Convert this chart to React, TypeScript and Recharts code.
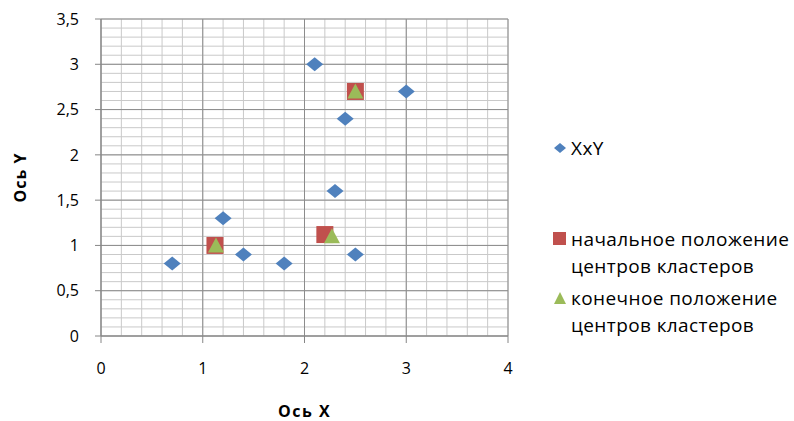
import { ScatterChart, Scatter, XAxis, YAxis, CartesianGrid } from 'recharts';

const points = [
  { x: 0.7, y: 0.8 },
  { x: 1.2, y: 1.3 },
  { x: 1.4, y: 0.9 },
  { x: 1.8, y: 0.8 },
  { x: 2.1, y: 3.0 },
  { x: 2.3, y: 1.6 },
  { x: 2.4, y: 2.4 },
  { x: 2.5, y: 0.9 },
  { x: 3.0, y: 2.7 },
];

const startCenters = [
  { x: 1.12, y: 1.0 },
  { x: 2.2, y: 1.12 },
  { x: 2.5, y: 2.7 },
];

const finalCenters = [
  { x: 1.13, y: 1.0 },
  { x: 2.27, y: 1.1 },
  { x: 2.5, y: 2.7 },
];

const X_MAX = 4;
const Y_MAX = 3.5;
const xTicks = [0, 1, 2, 3, 4];
const yTicks = [0, 0.5, 1, 1.5, 2, 2.5, 3, 3.5];
const xMinor = [0, 0.2, 0.4, 0.6, 0.8, 1, 1.2, 1.4, 1.6, 1.8, 2, 2.2, 2.4, 2.6, 2.8, 3, 3.2, 3.4, 3.6, 3.8, 4];
const yMinor = [
  0, 0.1, 0.2, 0.3, 0.4, 0.5, 0.6, 0.7, 0.8, 0.9, 1, 1.1, 1.2, 1.3, 1.4, 1.5, 1.6, 1.7, 1.8, 1.9, 2,
  2.1, 2.2, 2.3, 2.4, 2.5, 2.6, 2.7, 2.8, 2.9, 3, 3.1, 3.2, 3.3, 3.4, 3.5,
];

const BLUE = '#4F81BD';
const RED = '#C0504D';
const GREEN = '#9BBB59';
const FONT = '"Open Sans", "Noto Sans", sans-serif';

// grid positions from the plot offset and the axis domains
const gridX = (vals: number[]) => ({ offset }: any) =>
  vals.map((v) => offset.left + (v / X_MAX) * offset.width);
const gridY = (vals: number[]) => ({ offset }: any) =>
  vals.map((v) => offset.top + offset.height - (v / Y_MAX) * offset.height);

const Diamond = (p: any) => (
  <polygon
    points={`${p.cx},${p.cy - 7} ${p.cx + 8.5},${p.cy} ${p.cx},${p.cy + 7} ${p.cx - 8.5},${p.cy}`}
    fill={BLUE}
  />
);

const Square = (p: any) => <rect x={p.cx - 8.5} y={p.cy - 8.5} width={17} height={17} fill={RED} />;

const Triangle = (p: any) => (
  <polygon
    points={`${p.cx},${p.cy - 8} ${p.cx + 8},${p.cy + 7} ${p.cx - 8},${p.cy + 7}`}
    fill={GREEN}
  />
);

const legendItems = [
  { color: BLUE, kind: 'diamond', lines: ['XxY'] },
  { color: RED, kind: 'square', lines: ['начальное положение', 'центров кластеров'] },
  { color: GREEN, kind: 'triangle', lines: ['конечное положение', 'центров кластеров'] },
];

function LegendIcon({ kind, color }: { kind: string; color: string }) {
  return (
    <svg width={14} height={14} style={{ position: 'absolute', left: 0, top: 1 }}>
      {kind === 'diamond' && <polygon points="7,2 13,7 7,12 1,7" fill={color} />}
      {kind === 'square' && <rect x={0} y={0} width={13} height={13} fill={color} />}
      {kind === 'triangle' && <polygon points="7,1 13,13 1,13" fill={color} />}
    </svg>
  );
}

function ChartLegend() {
  const tops = [0, 91, 150];
  return (
    <div
      style={{
        position: 'absolute',
        left: 553,
        top: 140,
        width: 241,
        height: 200,
        fontFamily: FONT,
        fontSize: 19,
        letterSpacing: 0.4,
        color: '#000',
      }}
    >
      {legendItems.map((it, i) => (
        <div key={i} style={{ position: 'absolute', left: 0, top: tops[i], paddingLeft: 18, lineHeight: '27px' }}>
          <LegendIcon kind={it.kind} color={it.color} />
          {it.lines.map((l, j) => (
            <div key={j} style={{ whiteSpace: 'nowrap', marginTop: j === 0 ? -5 : 0 }}>
              {l}
            </div>
          ))}
        </div>
      ))}
    </div>
  );
}

const tickStyle = { fontSize: 16, fill: '#000', fontFamily: FONT };

export default function App() {
  return (
    <div style={{ position: 'absolute', left: 0, top: 0, width: 794, height: 421, background: '#fff' }}>
      <ScatterChart width={794} height={421} margin={{ top: 19, right: 286, bottom: 0, left: 0 }}>
        <CartesianGrid
          stroke="#c9c9c9"
          verticalCoordinatesGenerator={gridX(xMinor)}
          horizontalCoordinatesGenerator={gridY(yMinor)}
        />
        <CartesianGrid
          stroke="#8c8c8c"
          fill="none"
          verticalCoordinatesGenerator={gridX(xTicks)}
          horizontalCoordinatesGenerator={gridY(yTicks)}
        />
        <XAxis
          type="number"
          dataKey="x"
          domain={[0, X_MAX]}
          ticks={xTicks}
          interval={0}
          height={85}
          tick={tickStyle}
          stroke="#868686"
          tickSize={7}
          tickMargin={20}
          label={{
            value: 'Ось X',
            content: (p: any) => (
              <text
                x={p.viewBox.x + p.viewBox.width / 2}
                y={p.viewBox.y + 81}
                textAnchor="middle"
                fontFamily={FONT}
                fontSize={16}
                letterSpacing={1.5}
                fontWeight="bold"
                fill="#000"
              >
                Ось X
              </text>
            ),
          }}
        />
        <YAxis
          type="number"
          dataKey="y"
          domain={[0, Y_MAX]}
          ticks={yTicks}
          interval={0}
          width={101}
          tick={tickStyle}
          stroke="#868686"
          tickSize={6}
          tickMargin={16}
          tickFormatter={(v: number) => String(v).replace('.', ',')}
          label={{
            value: 'Ось Y',
            content: (p: any) => {
              const cx = 26;
              const cy = p.viewBox.y + p.viewBox.height / 2;
              return (
                <text
                  x={cx}
                  y={cy}
                  transform={`rotate(-90, ${cx}, ${cy})`}
                  textAnchor="middle"
                  fontFamily={FONT}
                  fontSize={16}
                  letterSpacing={1}
                  fontWeight="bold"
                  fill="#000"
                >
                  Ось Y
                </text>
              );
            },
          }}
        />
        <Scatter name="XxY" data={points} shape={Diamond} isAnimationActive={false} />
        <Scatter name="начальное положение центров кластеров" data={startCenters} shape={Square} isAnimationActive={false} />
        <Scatter name="конечное положение центров кластеров" data={finalCenters} shape={Triangle} isAnimationActive={false} />
      </ScatterChart>
      <ChartLegend />
    </div>
  );
}
